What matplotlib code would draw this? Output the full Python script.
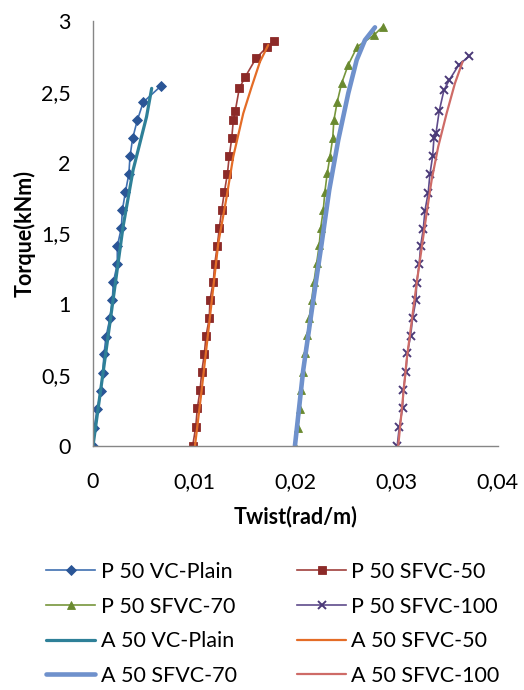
import matplotlib.pyplot as plt


# measured (P) series
p_plain_x = [0, 0.0001, 0.00042, 0.00076, 0.00096, 0.00109, 0.00128, 0.00168, 0.00191, 0.00201, 0.0024,
             0.0024, 0.0028, 0.0029, 0.0032, 0.00354, 0.00366, 0.00392, 0.00438, 0.00497, 0.00669]
p_plain_y = [0, 0.125, 0.259, 0.386, 0.513, 0.648, 0.768, 0.902, 1.029, 1.156, 1.283,
             1.41, 1.537, 1.664, 1.791, 1.918, 2.045, 2.172, 2.299, 2.427, 2.539]

p_sf50_x = [0.00985, 0.01015, 0.01031, 0.01058, 0.01075, 0.011, 0.01117, 0.01149, 0.01156, 0.01189,
            0.01203, 0.01228, 0.01248, 0.01272, 0.01298, 0.01328, 0.01347, 0.01371, 0.01387, 0.01406,
            0.01446, 0.01505, 0.01611, 0.01716, 0.01792]
p_sf50_y = [0, 0.13, 0.264, 0.393, 0.523, 0.648, 0.775, 0.9, 1.029, 1.158,
            1.283, 1.41, 1.535, 1.665, 1.79, 1.919, 2.046, 2.171, 2.3, 2.364,
            2.524, 2.606, 2.736, 2.814, 2.86]

p_sf70_x = [0.01996, 0.02023, 0.02046, 0.02055, 0.02078, 0.02095, 0.02118, 0.02137, 0.02161, 0.02184,
            0.0221, 0.02236, 0.0225, 0.02276, 0.02292, 0.02315, 0.02342, 0.02369, 0.02381, 0.02414,
            0.02457, 0.02522, 0.02611, 0.02777, 0.02862]
p_sf70_y = [0, 0.123, 0.257, 0.393, 0.523, 0.653, 0.782, 0.9, 1.029, 1.158,
            1.288, 1.418, 1.535, 1.665, 1.794, 1.924, 2.041, 2.171, 2.3, 2.429,
            2.559, 2.689, 2.818, 2.9, 2.959]

p_sf100_x = [0.03007, 0.03027, 0.0306, 0.03066, 0.03093, 0.03106, 0.03139, 0.03159, 0.03192, 0.03199,
             0.03224, 0.03238, 0.03264, 0.03281, 0.03313, 0.0333, 0.03357, 0.0337, 0.0339, 0.03422,
             0.03469, 0.03521, 0.03614, 0.03718]
p_sf100_y = [0, 0.13, 0.264, 0.393, 0.523, 0.653, 0.775, 0.9, 1.029, 1.151,
             1.281, 1.41, 1.528, 1.66, 1.787, 1.917, 2.046, 2.171, 2.206, 2.364,
             2.512, 2.582, 2.688, 2.752]

# analytical (A) series
a_plain_x = [0, 0.00198, 0.00297, 0.00396, 0.00529, 0.0058]
a_plain_y = [0, 1.029, 1.547, 1.947, 2.323, 2.524]

a_sf50_x = [0.01008, 0.01074, 0.01156, 0.01238, 0.01321, 0.01386, 0.01485, 0.01568, 0.0165, 0.01732]
a_sf50_y = [0, 0.393, 0.911, 1.429, 1.758, 2.041, 2.347, 2.535, 2.712, 2.83]

a_sf70_x = [0.01996, 0.02078, 0.02177, 0.0226, 0.02335, 0.02424, 0.02523, 0.02606, 0.02688, 0.02787]
a_sf70_y = [0, 0.535, 1.029, 1.429, 1.806, 2.159, 2.489, 2.724, 2.865, 2.955]

a_sf100_x = [0.03017, 0.031, 0.03199, 0.03297, 0.03347, 0.03412, 0.03495, 0.03577, 0.03653]
a_sf100_y = [0, 0.605, 1.147, 1.641, 1.876, 2.112, 2.347, 2.559, 2.712]

x_ticks = [0, 0.01, 0.02, 0.03, 0.04]
x_tick_labels = ["0", "0,01", "0,02", "0,03", "0,04"]
y_ticks = [0, 0.5, 1, 1.5, 2, 2.5, 3]
y_tick_labels = ["0", "0,5", "1", "1,5", "2", "2,5", "3"]

FONT = "Lato"
FS = 15.5

plt.rcParams["font.family"] = FONT

fig = plt.figure(figsize=(5.24, 6.9), dpi=100)
ax = fig.add_axes([0.1775, 0.354, 0.7723, 0.6156])

# P series: line + markers
p_series = [
    (p_plain_x, p_plain_y, "P 50 VC-Plain", "#3F6FB0", "#2A5596", "D", 4.7),
    (p_sf50_x, p_sf50_y, "P 50 SFVC-50", "#A0403C", "#8C2A28", "s", 5.6),
    (p_sf70_x, p_sf70_y, "P 50 SFVC-70", "#77963C", "#6A8A30", "^", 6.0),
    (p_sf100_x, p_sf100_y, "P 50 SFVC-100", "#5F4B8B", "#4B3A78", "x", 5.6),
]
handles = {}
for xs, ys, name, lc, mc, mk, ms in p_series:
    ln, = ax.plot(xs, ys, color=lc, lw=1.2, marker=mk, ms=ms,
                  mfc=mc, mec=mc, mew=1.4 if mk == "x" else 0.6, label=name)
    handles[name] = ln

# A series: plain lines on top
a_series = [
    (a_plain_x, a_plain_y, "A 50 VC-Plain", "#2E8098", 2.3),
    (a_sf50_x, a_sf50_y, "A 50 SFVC-50", "#E46C26", 1.6),
    (a_sf70_x, a_sf70_y, "A 50 SFVC-70", "#6F91CC", 3.3),
    (a_sf100_x, a_sf100_y, "A 50 SFVC-100", "#CE6B67", 1.6),
]
for xs, ys, name, c, lw in a_series:
    ln, = ax.plot(xs, ys, color=c, lw=lw, solid_capstyle="round", label=name)
    handles[name] = ln

ax.set_xlim(0, 0.04)
ax.set_ylim(0, 3)
ax.set_xticks(x_ticks, x_tick_labels)
ax.set_yticks(y_ticks, y_tick_labels)
ax.tick_params(length=0, labelsize=FS, colors="#000000")
ax.tick_params(axis="x", pad=19)
ax.tick_params(axis="y", pad=16)
for side in ("top", "right"):
    ax.spines[side].set_visible(False)
for side in ("left", "bottom"):
    ax.spines[side].set_color("#868686")
    ax.spines[side].set_linewidth(1.0)

ax.set_xlabel("Twist(rad/m)", fontsize=FS, fontweight="bold", labelpad=10)
ax.set_ylabel("Torque(kNm)", fontsize=FS, fontweight="bold", labelpad=4)

# legend fills column-wise, so order accordingly
order = ["P 50 VC-Plain", "P 50 SFVC-70", "A 50 VC-Plain", "A 50 SFVC-70",
         "P 50 SFVC-50", "P 50 SFVC-100", "A 50 SFVC-50", "A 50 SFVC-100"]
fig.legend([handles[k] for k in order], order, ncol=2, loc="center",
           bbox_to_anchor=(0.521, 0.0957), frameon=False, fontsize=FS,
           handlelength=2.28, handletextpad=0.25, columnspacing=2.8,
           labelspacing=0.68, borderpad=0.2)

fig.savefig("out.png", dpi=100)
